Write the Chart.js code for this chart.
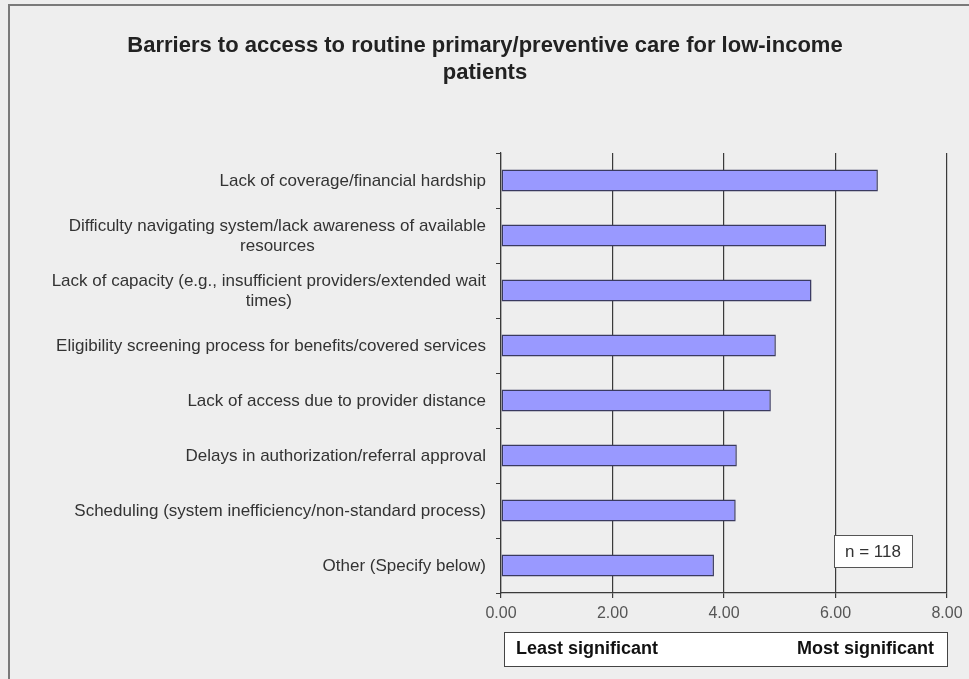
<!DOCTYPE html>
<html>
<head>
<meta charset="utf-8">
<script src="https://cdn.jsdelivr.net/npm/chart.js@4"></script>
<style>
  body { margin: 0; background: #eeeeee; }
  canvas { display: block; }
</style>
</head>
<body>
<canvas id="myChart" width="969" height="679"></canvas>
<script>
var chartTitle = ["Barriers to access to routine primary/preventive care for low-income", "patients"];

var categories = [
  ["Lack of coverage/financial hardship"],
  ["Difficulty navigating system/lack awareness of available", "resources"],
  ["Lack of capacity (e.g., insufficient providers/extended wait", "times)"],
  ["Eligibility screening process for benefits/covered services"],
  ["Lack of access due to provider distance"],
  ["Delays in authorization/referral approval"],
  ["Scheduling (system inefficiency/non-standard process)"],
  ["Other (Specify below)"]
];

var scores = [6.76, 5.83, 5.57, 4.93, 4.84, 4.23, 4.21, 3.82];

var xTicks = [0, 2, 4, 6, 8];

var sampleNote = "n = 118";
var scaleEnds = ["Least significant", "Most significant"];

var FONT = "'Liberation Sans', Arial, sans-serif";

// labels, title, boxes and frame drawn on top of the chart
var extras = {
  id: "extras",
  beforeDraw: function (chart) {
    var c = chart.ctx;
    c.save();
    c.fillStyle = "#eeeeee";
    c.fillRect(0, 0, chart.width, chart.height);
    c.restore();
  },
  afterDraw: function (chart) {
    var c = chart.ctx;
    var y = chart.scales.y;
    var x = chart.scales.x;
    c.save();

    // frame
    c.strokeStyle = "#7a7a7a";
    c.lineWidth = 2;
    c.beginPath();
    c.moveTo(9, chart.height);
    c.lineTo(9, 5);
    c.lineTo(chart.width, 5);
    c.stroke();

    // title
    c.fillStyle = "#222";
    c.font = "bold 22px " + FONT;
    c.textAlign = "center";
    c.textBaseline = "middle";
    c.fillText(chartTitle[0], 485, 46, 726);
    c.fillText(chartTitle[1], 485, 73, 726);

    // category labels
    c.font = "17px " + FONT;
    c.fillStyle = "#333";
    var right = x.left - 15;
    categories.forEach(function (lines, i) {
      var cy = y.getPixelForValue(i) + 1;
      var top = cy - (lines.length - 1) * 10;
      c.textAlign = "right";
      c.fillText(lines[0], right, top);
      var w = c.measureText(lines[0]).width;
      c.textAlign = "center";
      for (var k = 1; k < lines.length; k++) {
        c.fillText(lines[k], right - w / 2, top + k * 20);
      }
    });

    // n box
    c.fillStyle = "#ffffff";
    c.fillRect(834, 535, 78, 32);
    c.strokeStyle = "#555";
    c.lineWidth = 1;
    c.strokeRect(834.5, 535.5, 78, 32);
    c.fillStyle = "#333";
    c.font = "17px " + FONT;
    c.textAlign = "center";
    c.fillText(sampleNote, 873, 552);

    // significance box
    c.fillStyle = "#ffffff";
    c.fillRect(504, 632, 443, 34);
    c.strokeStyle = "#444";
    c.strokeRect(504.5, 632.5, 443, 34);
    c.fillStyle = "#111";
    c.font = "bold 18px " + FONT;
    c.textAlign = "left";
    c.fillText(scaleEnds[0], 516, 649);
    c.textAlign = "right";
    c.fillText(scaleEnds[1], 934, 649);

    c.restore();
  }
};

var ctx = document.getElementById("myChart").getContext("2d");
var myChart = new Chart(ctx, {
  type: "bar",
  data: {
    labels: categories.map(function (l) { return l.join(" "); }),
    datasets: [
      {
        label: "Mean score",
        data: scores,
        backgroundColor: "#9999ff",
        borderColor: "#3a3a60",
        borderWidth: 1.5,
        borderSkipped: false,
        barPercentage: 0.4,
        categoryPercentage: 1,
      },
    ],
  },
  options: {
    indexAxis: "y",
    responsive: false,
    animation: false,
    layout: {
      padding: { top: 153, right: 22, bottom: 0, left: 0 },
    },
    scales: {
      x: {
        min: 0,
        max: 8,
        afterBuildTicks: function (scale) {
          scale.ticks = xTicks.map(function (v) { return { value: v }; });
        },
        afterFit: function (scale) {
          scale.height = 86;
        },
        ticks: {
          color: "#555",
          font: { family: FONT, size: 16 },
          padding: 6,
          callback: function (v) { return Number(v).toFixed(2); },
        },
        grid: {
          color: "#3a3a3a",
          lineWidth: 1.2,
          tickLength: 5,
        },
        border: { color: "#3a3a3a", width: 1.2 },
      },
      y: {
        afterFit: function (scale) {
          scale.width = 501;
        },
        ticks: { display: false },
        grid: {
          offset: true,
          drawOnChartArea: false,
          tickLength: 5,
          color: "#3a3a3a",
        },
        border: { color: "#3a3a3a", width: 1.2 },
      },
    },
    plugins: {
      legend: { display: false },
      tooltip: { enabled: false },
      title: { display: false },
    },
  },
  plugins: [extras],
});
</script>
</body>
</html>
